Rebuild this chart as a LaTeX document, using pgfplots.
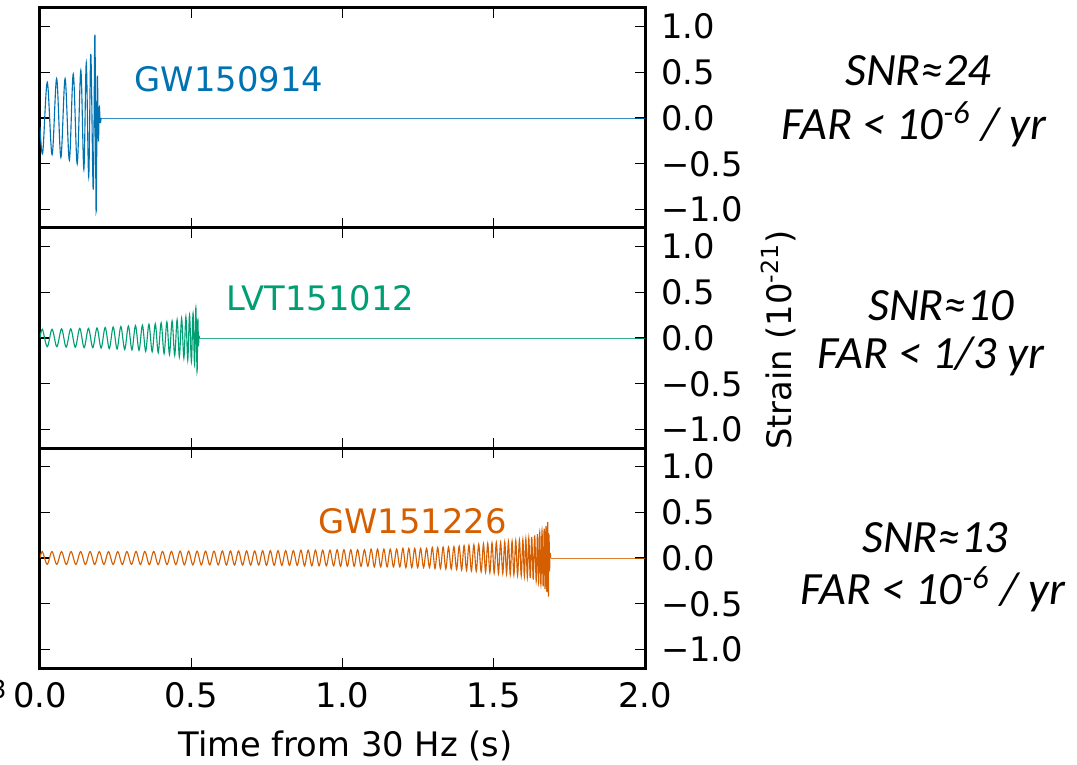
\documentclass[border=0pt]{standalone}
\usepackage{fontspec}
\setmainfont{DejaVu Sans}
\newfontfamily\calibri{Carlito}
\usepackage{pgfplots}
\pgfplotsset{compat=1.18}
\definecolor{cbblue}{RGB}{0,114,178}
\definecolor{cbgreen}{RGB}{0,158,115}
\definecolor{cborange}{RGB}{213,94,0}

\pgfplotsset{
  gwpanel/.style={
    width=242pt, height=88pt, scale only axis,
    xmin=0, xmax=2, ymin=-1.2, ymax=1.2,
    xtick={0,0.5,1,1.5,2},
    ytick={-1,-0.5,0,0.5,1},
    yticklabels={−1.0,−0.5,0.0,0.5,1.0},
    yticklabel pos=right,
    ytick pos=both, xtick pos=both,
    tick align=inside,
    major tick length=4pt,
    every tick/.style={black, line width=0.5pt},
    every axis/.append style={line width=1.2pt},
    ticklabel style={font=\fontsize{13.5}{16}\selectfont},
    yticklabel style={xshift=2.5pt},
    xticklabel style={yshift=-2pt},
  },
  wave/.style={line width=0.45pt, smooth, tension=0.55, no marks},
  flat/.style={line width=0.35pt, no marks, opacity=0.8},
}

\begin{document}
\begin{tikzpicture}
\useasboundingbox (-16pt,-38.4pt) rectangle (414.8pt,267.2pt);

% GW150914
\begin{axis}[gwpanel, at={(0pt,176pt)}, xticklabels={}]
\addplot[wave, cbblue] coordinates {
(0.000,-0.10) (0.009,-0.38) (0.024,0.39) (0.040,-0.40) (0.055,0.43) (0.069,-0.43)
(0.083,0.43) (0.097,-0.46) (0.110,0.48) (0.123,-0.50) (0.135,0.52) (0.145,-0.56)
(0.153,0.60) (0.161,-0.64) (0.168,0.70) (0.176,-0.78) (0.1815,0.91) (0.1855,-1.02)
(0.1895,0.45) (0.193,-0.25) (0.196,0.12) (0.199,-0.05) (0.202,0.0)
};
\addplot[flat, cbblue] coordinates {(0.202,0) (2.0,0)};
\node[anchor=west, inner sep=0pt, text=cbblue, font=\fontsize{13.5}{16}\selectfont] at (axis cs:0.3085,0.42) {GW150914};
\end{axis}

% LVT151012
\begin{axis}[gwpanel, at={(0pt,88pt)}, xticklabels={}]
\addplot[wave, cbgreen] coordinates {
(0.0,0.0)
(0.0080,0.095) (0.0239,-0.095) (0.0398,0.095) (0.0557,-0.095)
(0.0713,0.10) (0.0864,-0.10) (0.1016,0.10) (0.1167,-0.10)
(0.1315,0.105) (0.1458,-0.105) (0.1602,0.105) (0.1745,-0.105)
(0.1885,0.11) (0.2020,-0.11) (0.2155,0.115) (0.2290,-0.115)
(0.2420,0.12) (0.2547,-0.12) (0.2673,0.125) (0.2800,-0.125)
(0.2922,0.13) (0.3039,-0.13) (0.3156,0.135) (0.3273,-0.135)
(0.3386,0.14) (0.3493,-0.145) (0.3601,0.15) (0.3708,-0.15)
(0.3811,0.155) (0.3908,-0.16) (0.4005,0.165) (0.4102,-0.17)
(0.4194,0.175) (0.4280,-0.18) (0.4367,0.185) (0.4453,-0.19)
(0.4533,0.20) (0.4607,-0.205) (0.4682,0.215) (0.4756,-0.22)
(0.4823,0.23) (0.4884,-0.24) (0.4944,0.25) (0.5005,-0.26)
(0.5060,0.27) (0.5109,-0.29) (0.5153,0.33) (0.5192,-0.37)
(0.5218,0.20) (0.5238,-0.08) (0.5255,0.02) (0.5270,0.0)
};
\addplot[flat, cbgreen] coordinates {(0.527,0) (2.0,0)};
\node[anchor=west, inner sep=0pt, text=cbgreen, font=\fontsize{13.5}{16}\selectfont] at (axis cs:0.612,0.435) {LVT151012};
\end{axis}

% GW151226
\begin{axis}[gwpanel, at={(0pt,0pt)}, xticklabels={0.0,0.5,1.0,1.5,2.0}]
\addplot[wave, cborange] coordinates {
(0.0,0.0)
(0.0079,0.07) (0.0237,-0.07) (0.0395,0.07) (0.0553,-0.07) (0.0711,0.07) (0.0869,-0.07) (0.1027,0.07) (0.1185,-0.07) (0.1343,0.07) (0.1501,-0.07)
(0.1656,0.07) (0.1808,-0.07) (0.1960,0.07) (0.2112,-0.07) (0.2264,0.07) (0.2417,-0.07) (0.2569,0.07) (0.2721,-0.07) (0.2873,0.07) (0.3025,-0.07)
(0.3174,0.072) (0.3320,-0.072) (0.3466,0.072) (0.3613,-0.072) (0.3759,0.072) (0.3905,-0.072) (0.4051,0.072) (0.4198,-0.072) (0.4344,0.072) (0.4490,-0.072)
(0.4633,0.075) (0.4773,-0.075) (0.4913,0.075) (0.5053,-0.075) (0.5193,0.075) (0.5332,-0.075) (0.5472,0.075) (0.5612,-0.075) (0.5752,0.075) (0.5892,-0.075)
(0.6029,0.077) (0.6162,-0.077) (0.6296,0.077) (0.6429,-0.077) (0.6563,0.077) (0.6696,-0.077) (0.6830,0.077) (0.6963,-0.077) (0.7097,0.077) (0.7230,-0.077)
(0.7360,0.08) (0.7487,-0.08) (0.7614,0.08) (0.7741,-0.08) (0.7868,0.08) (0.7994,-0.08) (0.8121,0.08) (0.8248,-0.08) (0.8375,0.08) (0.8502,-0.08)
(0.8625,0.085) (0.8745,-0.085) (0.8865,0.085) (0.8985,-0.085) (0.9105,0.085) (0.9226,-0.085) (0.9346,0.085) (0.9466,-0.085) (0.9586,0.085) (0.9706,-0.085)
(0.9822,0.09) (0.9935,-0.09) (1.0048,0.09) (1.0161,-0.09) (1.0274,0.09) (1.0386,-0.09) (1.0499,0.09) (1.0612,-0.09) (1.0725,0.09) (1.0838,-0.09)
(1.0947,0.097) (1.1052,-0.097) (1.1158,0.097) (1.1263,-0.097) (1.1368,0.097) (1.1474,-0.097) (1.1579,0.097) (1.1685,-0.097) (1.1790,0.097) (1.1895,-0.097)
(1.1997,0.105) (1.2094,-0.105) (1.2192,0.105) (1.2290,-0.105) (1.2387,0.105) (1.2485,-0.105) (1.2582,0.105) (1.2680,-0.105) (1.2778,0.105) (1.2875,-0.105)
(1.2969,0.115) (1.3058,-0.115) (1.3147,0.115) (1.3237,-0.115) (1.3326,0.12) (1.3415,-0.12) (1.3505,0.12) (1.3594,-0.12) (1.3683,0.125) (1.3772,-0.125)
(1.3857,0.13) (1.3938,-0.13) (1.4019,0.135) (1.4100,-0.135) (1.4180,0.14) (1.4261,-0.14) (1.4342,0.145) (1.4422,-0.145) (1.4503,0.15) (1.4584,-0.15)
(1.4660,0.155) (1.4730,-0.155) (1.4801,0.16) (1.4872,-0.16) (1.4943,0.165) (1.5014,-0.165) (1.5085,0.17) (1.5156,-0.17) (1.5227,0.17) (1.5298,-0.17)
(1.5363,0.175) (1.5424,-0.175) (1.5485,0.18) (1.5545,-0.18) (1.5606,0.185) (1.5666,-0.185) (1.5727,0.19) (1.5788,-0.19) (1.5848,0.195) (1.5909,-0.195)
(1.5963,0.20) (1.6012,-0.20) (1.6061,0.21) (1.6110,-0.21) (1.6159,0.22) (1.6207,-0.22) (1.6256,0.23) (1.6305,-0.235) (1.6354,0.245) (1.6403,-0.25)
(1.6446,0.26) (1.6483,-0.27) (1.6521,0.28) (1.6558,-0.29) (1.6596,0.30) (1.6633,-0.31)
(1.6667,0.32) (1.6697,-0.34) (1.6726,0.35) (1.6756,-0.37)
(1.6783,0.39) (1.6806,-0.42) (1.6826,0.25) (1.6845,-0.12) (1.6863,0.05) (1.6880,0.0)
};
\addplot[flat, cborange] coordinates {(1.688,0) (2.0,0)};
\node[anchor=west, inner sep=0pt, text=cborange, font=\fontsize{13.5}{16}\selectfont] at (axis cs:0.915,0.404) {GW151226};
\end{axis}

% axis titles
\node[anchor=base, font=\fontsize{13.5}{16}\selectfont] at (122.2pt,-35.2pt) {Time from 30 Hz (s)};
\node[rotate=90, font=\fontsize{13.5}{16}\selectfont] at (295.2pt,131.2pt) {Strain (10\textsuperscript{-21})};
\node[anchor=east, inner sep=0pt, font=\fontsize{10}{11}\selectfont] at (-13.2pt,-8.4pt) {3};

% detection statistics
\begin{scope}[every node/.style={anchor=base, font=\calibri\itshape\fontsize{18.5}{22}\selectfont}]
\node at (351.2pt,233.0pt) {SNR≈24};
\node at (349.6pt,211.4pt) {FAR < 10\textsuperscript{-6} / yr};
\node at (360.4pt,139.2pt) {SNR≈10};
\node at (356.4pt,120.0pt) {FAR < 1/3 yr};
\node at (358.0pt,46.4pt) {SNR≈13};
\node at (357.2pt,25.6pt) {FAR < 10\textsuperscript{-6} / yr};
\end{scope}
\end{tikzpicture}
\end{document}
